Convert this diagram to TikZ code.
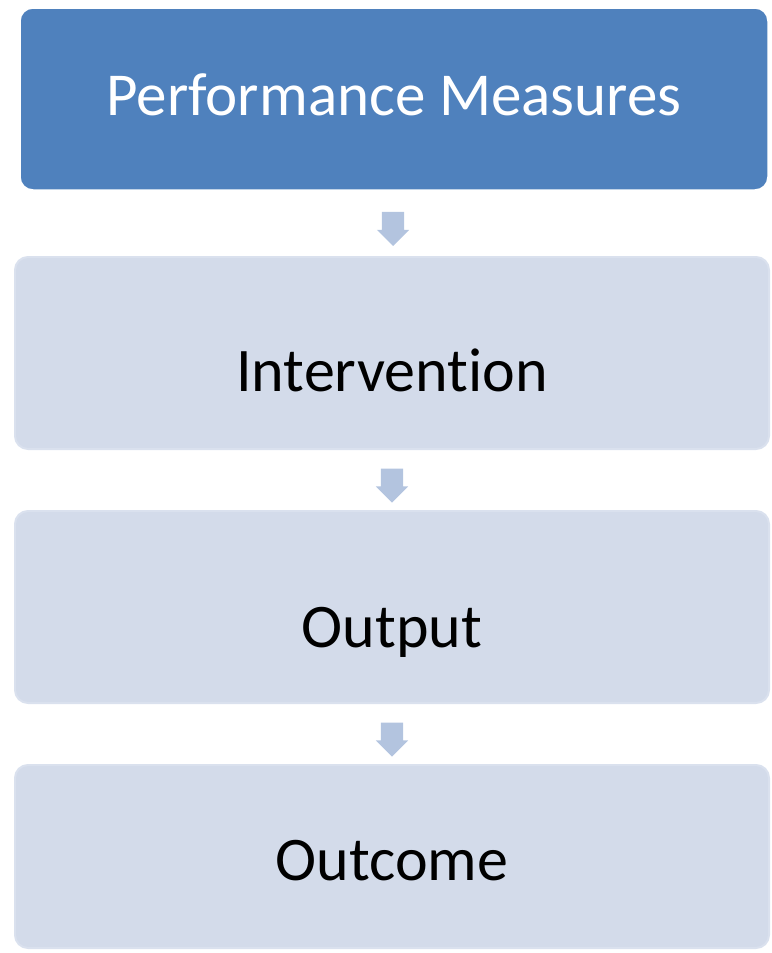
\documentclass[tikz,border=0pt]{standalone}
\usepackage{fontspec}
\setmainfont{Carlito}[Ligatures={NoCommon}]
\usetikzlibrary{shapes.arrows}
\definecolor{topblue}{RGB}{79,129,189}
\definecolor{paleblue}{RGB}{211,219,234}
\definecolor{paleedge}{RGB}{218,225,238}
\definecolor{arrowblue}{RGB}{179,196,223}

\begin{document}
\begin{tikzpicture}[x=1pt, y=-1pt,
  topbox/.style={rounded corners=13pt, fill=topblue, draw=white, line width=1.5pt, minimum width=748pt, minimum height=182pt},
  stepbox/.style={rounded corners=13pt, fill=paleblue, draw=paleedge, line width=2pt, minimum width=754pt, minimum height=192pt},
  boxtext/.style={anchor=base, font=\fontsize{62}{62}\selectfont},
  downarrow/.style={single arrow, rotate=-90, fill=arrowblue, draw=none, inner xsep=0pt, inner ysep=11pt, minimum height=34pt, single arrow head extend=5pt, single arrow tip angle=90}]
\useasboundingbox (0,0) rectangle (771,953);
\node [topbox] (b1) at (394,99) {};
\node [stepbox] (b2) at (392,353) {};
\node [stepbox] (b3) at (392,607) {};
\node [stepbox, minimum height=183pt] (b4) at (392,856.5) {};
\node [boxtext, text=white, font=\fontsize{61}{61}\selectfont] (t1) at ([yshift=-16pt]b1.center) {Performance Measures};
\node [boxtext] (t2) at ([yshift=-38pt]b2.center) {Intervention};
\node [boxtext] (t3) at ([yshift=-40pt]b3.center) {Output};
\node [boxtext] (t4) at ([yshift=-23.5pt]b4.center) {Outcome};
\path (b1) -- node [downarrow] (a1) {} (b2);
\path (b2) -- node [downarrow] (a2) {} (b3);
\path (b3) -- node [downarrow] (a3) {} (b4);
\end{tikzpicture}
\end{document}
